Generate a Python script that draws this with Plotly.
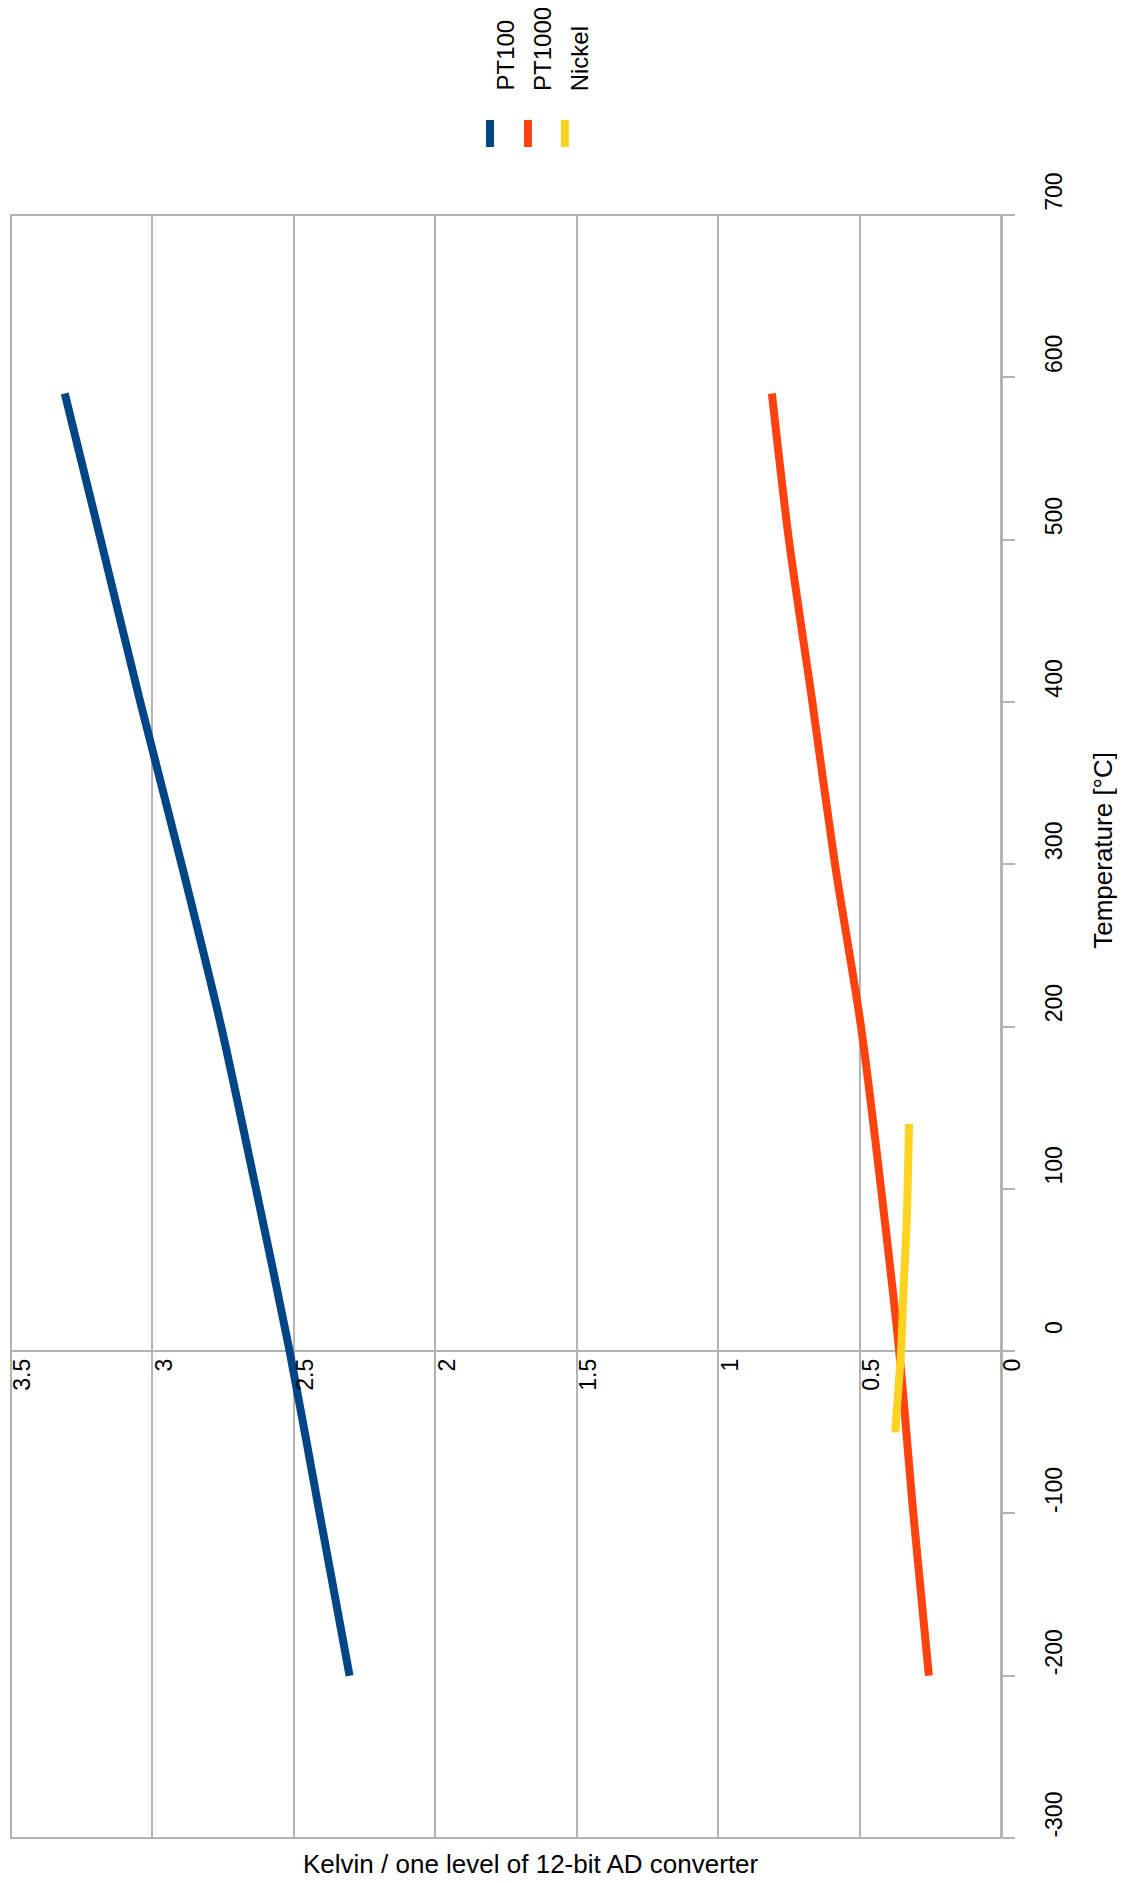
import plotly.graph_objects as go

# ---- data ----
temps_pt = [-200, -100, 0, 100, 200, 300, 400, 500, 590]
pt100 = [2.303, 2.409, 2.515, 2.634, 2.757, 2.897, 3.043, 3.183, 3.31]
pt1000 = [0.255, 0.31, 0.36, 0.424, 0.495, 0.587, 0.667, 0.75, 0.81]
temps_ni = [-50, 0, 40, 80, 140]
nickel = [0.374, 0.353, 0.344, 0.333, 0.325]

series_names = ["PT100", "PT1000", "Nickel"]
series_colors = ["#004586", "#ff420e", "#ffd320"]

temp_tickvals = [-300, -200, -100, 0, 100, 200, 300, 400, 500, 600, 700]
temp_ticktext = ["-300", "-200", "-100", "0", "100", "200", "300", "400", "500", "600", "700"]
value_tickvals = [0, 0.5, 1, 1.5, 2, 2.5, 3, 3.5]
value_ticktext = ["0", "0.5", "1", "1.5", "2", "2.5", "3", "3.5"]

value_title = "Kelvin / one level of 12-bit AD converter"
temp_title = "Temperature [°C]"

FONT = "Liberation Sans, Arial, sans-serif"
GRID = "#b3b3b3"

# page body adds an 8px offset; work in reference pixel coords minus 8
OFF = 8
W, H = 1125 - OFF, 1883 - OFF
L, T = 9 - OFF, 215 - OFF
R = W - (1001 - OFF)
B = H - (1838 - OFF)
pw, ph = W - L - R, H - T - B

def px(xp):
    return (xp - OFF - L) / pw

def py(yp):
    return (H - B - (yp - OFF)) / ph

fig = go.Figure()
for name, xs, ys, col, shape in [
    (series_names[0], pt100, temps_pt, series_colors[0], "spline"),
    (series_names[1], pt1000, temps_pt, series_colors[1], "spline"),
    (series_names[2], nickel, temps_ni, series_colors[2], "linear"),
]:
    fig.add_trace(go.Scatter(x=xs, y=ys, mode="lines", name=name,
                             line=dict(color=col, width=8, shape=shape, smoothing=0.8),
                             showlegend=False))

fig.update_layout(
    width=W, height=H,
    margin=dict(l=L, r=R, t=T, b=B),
    plot_bgcolor="white", paper_bgcolor="white",
    font=dict(family=FONT, color="black"),
    showlegend=False,
    xaxis=dict(range=[3.5, 0], tickvals=value_tickvals, ticktext=value_ticktext,
               showgrid=True, gridcolor=GRID,
               gridwidth=2, zeroline=False, anchor="free", position=0.3,
               side="bottom", tickangle=-90, tickfont=dict(size=23),
               ticks="", showline=False, ticklabelshift=-12, ticklabelstandoff=2,
               ticklabeloverflow="allow"),
    yaxis=dict(range=[-300, 700], tickvals=temp_tickvals, ticktext=temp_ticktext,
               side="right", showgrid=False,
               zeroline=True, zerolinecolor=GRID, zerolinewidth=2,
               showline=True, linecolor=GRID, linewidth=2,
               ticks="outside", ticklen=12, tickwidth=2, tickcolor=GRID,
               tickangle=-90, tickfont=dict(size=23),
               ticklabelstandoff=19, ticklabelshift=-20,
               ticklabeloverflow="allow"),
)

shapes = [dict(type="rect", xref="paper", yref="paper", x0=0, x1=1, y0=0, y1=1,
               line=dict(color=GRID, width=2), layer="below")]
annotations = []
leg_marker_x = [489, 527, 564]
leg_text_x = [504, 541, 579]
for i, name in enumerate(series_names):
    shapes.append(dict(type="line", xref="paper", yref="paper",
                       x0=px(leg_marker_x[i]), x1=px(leg_marker_x[i]),
                       y0=py(147), y1=py(120),
                       line=dict(color=series_colors[i], width=8)))
    annotations.append(dict(xref="paper", yref="paper", x=px(leg_text_x[i]), y=py(93),
                            text=name, showarrow=False, textangle=-90,
                            xanchor="center", yanchor="bottom",
                            font=dict(size=24, family=FONT, color="black")))

annotations.append(dict(xref="paper", yref="paper", x=px(530), y=py(1864),
                        text=value_title, showarrow=False,
                        xanchor="center", yanchor="middle",
                        font=dict(size=26, family=FONT, color="black")))
annotations.append(dict(xref="paper", yref="paper", x=px(1103), y=py(850),
                        text=temp_title, showarrow=False, textangle=-90,
                        xanchor="center", yanchor="middle",
                        font=dict(size=26, family=FONT, color="black")))

fig.update_layout(shapes=shapes, annotations=annotations)
fig.write_html("out.html")
